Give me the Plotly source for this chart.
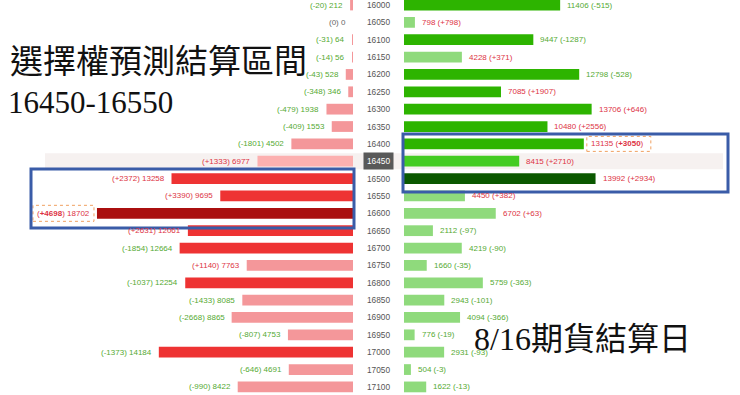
import plotly.graph_objects as go

strikes = [16000, 16050, 16100, 16150, 16200, 16250, 16300, 16350, 16400, 16450, 16500, 16550,
           16600, 16650, 16700, 16750, 16800, 16850, 16900, 16950, 17000, 17050, 17100]
put_oi = [212, 0, 64, 56, 528, 346, 1938, 1553, 4502, 6977, 13258, 9695,
          18702, 12061, 12664, 7763, 12254, 8085, 8865, 4753, 14184, 4691, 8422]
put_chg = [-20, 0, -31, -14, -43, -348, -479, -409, -1801, 1333, 2372, 3390,
           4698, 2631, -1854, 1140, -1037, -1433, -2668, -807, -1373, -646, -990]
call_oi = [11406, 798, 9447, 4228, 12798, 7085, 13706, 10480, 13135, 8415, 13992, 4450,
           6702, 2112, 4219, 1660, 5759, 2943, 4094, 776, 2931, 504, 1622]
call_chg = [-515, 798, -1287, 371, -528, 1907, 646, 2556, 3050, 2710, 2934, 382,
            63, -97, -90, -35, -363, -101, -366, -19, -93, -3, -13]
atm_strike = 16450
put_max_strike = 16600
call_max_strike = 16400
title1 = "選擇權預測結算區間"
title2 = "16450-16550"
title3 = "8/16期貨結算日"

# styles
PINK, PALE, RED, DRED = "#f4979a", "#fcb0b0", "#ee3333", "#aa0f0f"
LGRN, GRN, BGRN, DGRN = "#8fda7c", "#2db400", "#44cc22", "#0a5800"
put_colors = [PINK, PINK, PINK, PINK, PINK, PINK, PINK, PINK, PINK, PALE, RED, RED,
              DRED, RED, RED, PINK, RED, PINK, PINK, PINK, RED, PINK, PINK]
call_colors = [GRN, LGRN, GRN, LGRN, GRN, GRN, GRN, GRN, GRN, BGRN, DGRN, LGRN,
               LGRN, LGRN, LGRN, LGRN, LGRN, LGRN, LGRN, LGRN, LGRN, LGRN, LGRN]

W, H = 740, 395
PX = 0.01369  # pixels per contract
left_end, right_start = 353, 404
row_px = 17.36
top_c = 5
idx = list(range(len(strikes)))

def chg_color(c):
    return "#dd3344" if c > 0 else ("#55aa33" if c < 0 else "#666666")

def fmt(c):
    return f"+{c}" if c > 0 else f"{c}"

fig = go.Figure()
fig.add_trace(go.Bar(x=put_oi, y=idx, orientation="h", xaxis="x", yaxis="y",
                     marker=dict(color=put_colors, line=dict(width=0)), width=0.62,
                     hoverinfo="skip"))
fig.add_trace(go.Bar(x=call_oi, y=idx, orientation="h", xaxis="x2", yaxis="y",
                     marker=dict(color=call_colors, line=dict(width=0)), width=0.62,
                     hoverinfo="skip"))

LF = "Liberation Sans, Arial, sans-serif"
FS = 8
ann = []
shapes = []
for i, s in enumerate(strikes):
    pc = fmt(put_chg[i])
    if s == put_max_strike:
        pc = f"<b>{pc}</b>"
    ann.append(dict(x=put_oi[i], y=i, xref="x", yref="y", text=f"({pc}) {put_oi[i]}",
                    showarrow=False, xanchor="right", yanchor="middle", xshift=-5,
                    font=dict(family=LF, size=FS, color=chg_color(put_chg[i]))))
    cc = fmt(call_chg[i])
    if s == call_max_strike:
        cc = f"<b>{cc}</b>"
    ann.append(dict(x=call_oi[i], y=i, xref="x2", yref="y", text=f"{call_oi[i]} ({cc})",
                    showarrow=False, xanchor="left", yanchor="middle", xshift=5,
                    font=dict(family=LF, size=FS, color=chg_color(call_chg[i]))))
    if s == atm_strike:
        ann.append(dict(x=378 / W, y=i, xref="paper", yref="y", text=str(s), showarrow=False,
                        xanchor="center", yanchor="middle", bgcolor="#595959", borderpad=3,
                        font=dict(family=LF, size=8.3, color="white")))
        py = top_c + i * row_px
        shapes.append(dict(type="rect", xref="paper", yref="paper", x0=45 / W, x1=723 / W,
                           y0=1 - (py + 8) / H, y1=1 - (py - 8) / H, fillcolor="#f6f1f0",
                           line=dict(width=0), layer="below"))
    else:
        ann.append(dict(x=378 / W, y=i, xref="paper", yref="y", text=str(s), showarrow=False,
                        xanchor="center", yanchor="middle",
                        font=dict(family=LF, size=8.3, color="#555555")))
    if s == put_max_strike:
        shapes.append(dict(type="rect", xref="x", yref="y", xsizemode="pixel", ysizemode="pixel",
                           xanchor=put_oi[i], yanchor=i, x0=-64, x1=-3, y0=-8, y1=8,
                           line=dict(color="#f0a060", width=1, dash="dot")))
    if s == call_max_strike:
        shapes.append(dict(type="rect", xref="x2", yref="y", xsizemode="pixel", ysizemode="pixel",
                           xanchor=call_oi[i], yanchor=i, x0=3, x1=67, y0=-7.5, y1=7.5,
                           line=dict(color="#f0a060", width=1, dash="dot")))

# blue highlight boxes
BLUE = "#3a5ca8"
shapes.append(dict(type="rect", xref="paper", yref="paper", x0=31 / W, x1=354 / W,
                   y0=1 - 228 / H, y1=1 - 169 / H, line=dict(color=BLUE, width=3)))
shapes.append(dict(type="rect", xref="paper", yref="paper", x0=403 / W, x1=728 / W,
                   y0=1 - 192 / H, y1=1 - 134 / H, line=dict(color=BLUE, width=3)))

SF = "Liberation Serif, Noto Sans CJK TC, serif"
ann.append(dict(x=8 / W, y=1 - 62 / H, xref="paper", yref="paper", text=title1, showarrow=False,
                xanchor="left", yanchor="middle", font=dict(family=SF, size=33, color="#111111")))
ann.append(dict(x=6 / W, y=1 - 102 / H, xref="paper", yref="paper", text=title2, showarrow=False,
                xanchor="left", yanchor="middle", font=dict(family=SF, size=31, color="#111111")))
ann.append(dict(x=472 / W, y=1 - 339 / H, xref="paper", yref="paper", text=title3, showarrow=False,
                xanchor="left", yanchor="middle", font=dict(family=SF, size=32, color="#111111")))

n = len(strikes)
fig.update_layout(
    width=W, height=H, margin=dict(l=0, r=0, t=0, b=0),
    paper_bgcolor="white", plot_bgcolor="rgba(0,0,0,0)",
    showlegend=False, barmode="overlay",
    xaxis=dict(domain=[0, left_end / W], range=[left_end / PX, 0], visible=False, fixedrange=True),
    xaxis2=dict(domain=[right_start / W, 1], range=[0, (W - right_start) / PX], anchor="y",
                visible=False, fixedrange=True),
    yaxis=dict(range=[(n - 1) + (H - top_c - (n - 1) * row_px) / row_px, -top_c / row_px],
               visible=False, fixedrange=True),
    annotations=ann, shapes=shapes,
)
fig.write_html("out.html")
